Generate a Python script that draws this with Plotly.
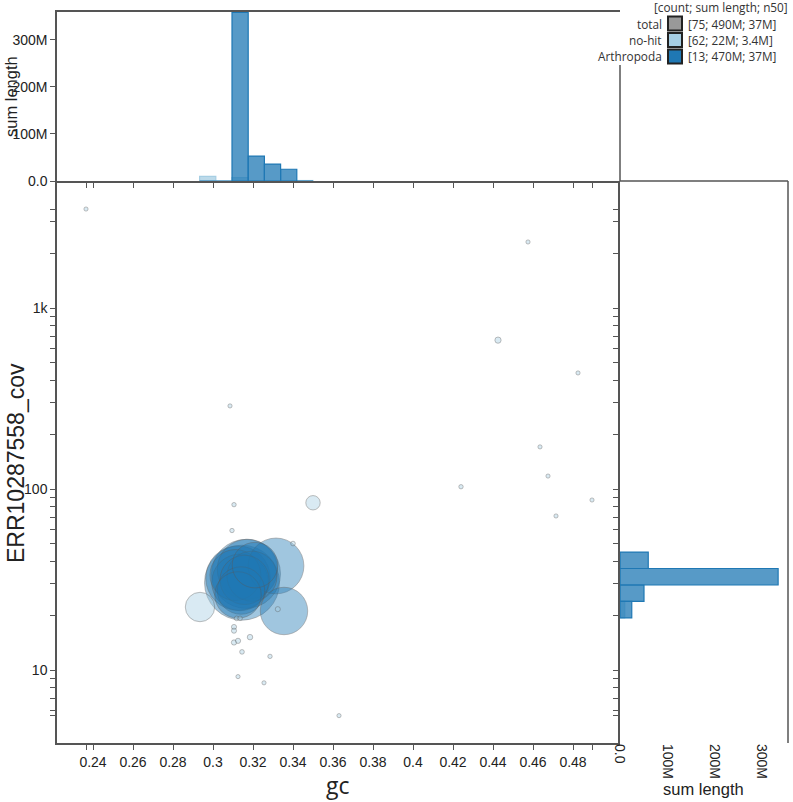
import numpy as np
import plotly.graph_objects as go

W, H = 793, 802

# ---------------- data ----------------
nohit_gc = [0.2365, 0.4575, 0.4425, 0.4825, 0.3085, 0.4635, 0.4675, 0.424, 0.4895, 0.4715,
            0.350, 0.3105, 0.3095, 0.340, 0.2935, 0.3118, 0.3135, 0.3105, 0.3105, 0.3105,
            0.3125, 0.3185, 0.3145, 0.3285, 0.3125, 0.3255, 0.3324, 0.363]
nohit_cov = [3525, 2318, 665, 438, 288, 171, 118, 103, 87, 71,
             84, 82, 59, 50, 22.3, 19.3, 19.3, 17.3, 16.5, 14.2,
             14.5, 15.2, 12.6, 11.9, 9.2, 8.5, 21.7, 5.6]
nohit_len = [0.2e6, 0.2e6, 0.45e6, 0.2e6, 0.2e6, 0.2e6, 0.2e6, 0.22e6, 0.2e6, 0.2e6,
             2.4e6, 0.22e6, 0.22e6, 0.25e6, 10e6, 0.25e6, 0.25e6, 0.3e6, 0.3e6, 0.32e6,
             0.32e6, 0.35e6, 0.25e6, 0.22e6, 0.2e6, 0.2e6, 0.3e6, 0.2e6]

arth_gc = [0.3145, 0.3165, 0.3125, 0.3172, 0.3135, 0.3112, 0.3158, 0.314, 0.3125,
           0.3195, 0.321, 0.3315, 0.3355]
arth_cov = [30.4, 34.0, 32.2, 36.0, 30.5, 33.5, 31.5, 27.5, 26.0,
            33.0, 38.0, 37.6, 21.2]
arth_len = [65e6, 55e6, 48e6, 42e6, 37e6, 30e6, 28e6, 26e6, 25e6,
            29e6, 24e6, 36e6, 26e6]

# gc histogram (sum length per bin)
gc_bin_lo = [0.2933, 0.3014, 0.3095, 0.3176, 0.3257, 0.3338, 0.3419]
gc_bin_w = 0.0081
arth_gc_sum = [0, 0, 358e6, 53e6, 36e6, 25e6, 0]
nohit_gc_sum = [10e6, 0, 7e6, 0, 0, 0, 1e6]

# coverage histogram (log10 bins)
cov_bin_lo = [1.288, 1.379, 1.470, 1.561]
cov_bin_w = 0.091
arth_cov_sum = [25e6, 51e6, 336e6, 60e6]
nohit_cov_sum = [10e6, 0, 0, 0]

x_major = [0.24, 0.26, 0.28, 0.30, 0.32, 0.34, 0.36, 0.38, 0.40, 0.42, 0.44, 0.46, 0.48]
hist_ticks = [0, 100e6, 200e6, 300e6]
hist_ticktext = ["0.0", "100M", "200M", "300M"]

legend_rows = [("total", "#999999", "[75; 490M; 37M]"),
               ("no-hit", "#a6cee3", "[62; 22M; 3.4M]"),
               ("Arthropoda", "#1f78b4", "[13; 470M; 37M]")]

# ---------------- derived ----------------
def rgba(hexc, a):
    h = hexc.lstrip('#')
    return "rgba(%d,%d,%d,%.2f)" % (int(h[0:2], 16), int(h[2:4], 16), int(h[4:6], 16), a)

NOHIT, ARTH = "#a6cee3", "#1f78b4"
gcs = np.array(nohit_gc + arth_gc)
covs = np.array(nohit_cov + arth_cov)
lens = np.array(nohit_len + arth_len)
cols = [NOHIT] * len(nohit_gc) + [ARTH] * len(arth_gc)
order = np.argsort(-lens, kind="stable")
sizes = np.maximum(4, 0.0093 * np.sqrt(lens))

# ticks
x_tv = x_major + [gcs.min(), gcs.max()]
x_tt = ["%g" % v for v in x_major] + ["", ""]
y_tv, y_tt = [], []
for dec in [1, 10, 100, 1000]:
    for m in range(1, 10):
        v = m * dec
        if covs.min() <= v <= covs.max():
            y_tv.append(v)
            y_tt.append({10: "10", 100: "100", 1000: "1k"}.get(v, ""))
y_tv += [covs.min(), covs.max()]
y_tt += ["", ""]

AX = "#555555"
TICKFONT = dict(family="Liberation Sans, Arial, sans-serif", size=14, color="#222")

x_dom = [57 / W, 620 / W]
y_dom = [1 - 743 / H, 1 - 181 / H]
top_dom = [1 - 181 / H, 1 - 12 / H]
right_dom = [620 / W, 788 / W]
x_range = [0.222, 0.5035]
y_range = [0.597, 3.702]

fig = go.Figure()

# top histogram
for vals, c in [(nohit_gc_sum, NOHIT), (arth_gc_sum, ARTH)]:
    fig.add_trace(go.Bar(x=[lo + gc_bin_w / 2 for lo in gc_bin_lo], y=vals, width=gc_bin_w,
                         marker=dict(color=rgba(c, 0.75), line=dict(color=c, width=1.2)),
                         xaxis="x2", yaxis="y2", showlegend=False, hoverinfo="skip"))

# right histogram
for vals, c in [(nohit_cov_sum, NOHIT), (arth_cov_sum, ARTH)]:
    fig.add_trace(go.Bar(y=[lo + cov_bin_w / 2 for lo in cov_bin_lo], x=vals, width=cov_bin_w,
                         orientation="h",
                         marker=dict(color=rgba(c, 0.75), line=dict(color=c, width=1.2)),
                         xaxis="x3", yaxis="y3", showlegend=False, hoverinfo="skip"))

# scatter
fig.add_trace(go.Scatter(
    x=gcs[order], y=covs[order], mode="markers",
    marker=dict(size=sizes[order], color=[rgba(cols[i], 0.6) for i in order],
                line=dict(color="rgba(90,90,90,0.55)", width=1)),
    xaxis="x", yaxis="y", showlegend=False, hoverinfo="skip"))

common = dict(showgrid=False, zeroline=False, linecolor=AX, linewidth=1.5, automargin=False,
              ticklen=5, tickcolor=AX, tickwidth=1, tickfont=TICKFONT)

fig.update_layout(
    width=W, height=H, margin=dict(l=0, r=0, t=0, b=0, autoexpand=False),
    paper_bgcolor="white", plot_bgcolor="rgba(0,0,0,0)", barmode="overlay",
    xaxis=dict(domain=x_dom, range=x_range, anchor="y", tickmode="array", ticks="outside",
               tickvals=x_tv, ticktext=x_tt, showline=True, **common),
    yaxis=dict(domain=y_dom, range=y_range, type="log", anchor="x", tickmode="array",
               ticks="outside", tickvals=y_tv, ticktext=y_tt, showline=True, **common),
    xaxis2=dict(domain=x_dom, range=x_range, anchor="y2", tickmode="array", ticks="outside",
                tickvals=x_tv, ticktext=x_tt, showticklabels=False, showline=True,
                mirror=True, **common),
    yaxis2=dict(domain=top_dom, range=[0, 359e6], anchor="x2", tickmode="array",
                ticks="outside", tickvals=hist_ticks, ticktext=hist_ticktext,
                showline=True, **common),
    xaxis3=dict(domain=right_dom, range=[0, 357e6], anchor="y3", tickmode="array",
                tickvals=hist_ticks, ticktext=hist_ticktext, tickangle=90, ticks="",
                showline=False, **common),
    yaxis3=dict(domain=y_dom, range=y_range, anchor="x3", tickmode="array", ticks="outside",
                tickvals=list(np.log10(y_tv)), ticktext=[""] * len(y_tv),
                showticklabels=False, showline=True, **common),
)

# frame lines
shapes = [
    dict(type="line", xref="paper", yref="paper", x0=620 / W, x1=620 / W,
         y0=1 - 181 / H, y1=1 - 65 / H, line=dict(color=AX, width=1.5)),
    dict(type="line", xref="paper", yref="paper", x0=620 / W, x1=788 / W,
         y0=1 - 181 / H, y1=1 - 181 / H, line=dict(color=AX, width=1.5)),
    dict(type="line", xref="paper", yref="paper", x0=788 / W, x1=788 / W,
         y0=1 - 181 / H, y1=1 - 743 / H, line=dict(color=AX, width=1.5)),
]
annotations = [
    dict(text="gc", x=338 / W, y=1 - 785 / H, xref="paper", yref="paper", showarrow=False,
         font=dict(family="Open Sans", size=23, color="#222"), xanchor="center",
         yanchor="middle", borderpad=0),
    dict(text="ERR10287558_cov", x=16 / W, y=1 - 463 / H, xref="paper", yref="paper",
         showarrow=False, textangle=-90,
         font=dict(family="Liberation Sans, Arial", size=23, color="#222"),
         xanchor="center", yanchor="middle"),
    dict(text="sum length", x=11 / W, y=1 - 97 / H, xref="paper", yref="paper",
         showarrow=False, textangle=-90,
         font=dict(family="Liberation Sans, Arial", size=16.5, color="#222"),
         xanchor="center", yanchor="middle"),
    dict(text="sum length", x=703 / W, y=1 - 789 / H, xref="paper", yref="paper",
         showarrow=False, font=dict(family="Liberation Sans, Arial", size=16.5, color="#222"),
         xanchor="center", yanchor="middle"),
    dict(text="[count; sum length; n50]", x=789 / W, y=1 - 7 / H, xref="paper", yref="paper",
         showarrow=False, font=dict(family="Open Sans", size=11.8, color="#333"),
         xanchor="right", yanchor="middle", borderpad=0),
]
LEG = dict(family="Open Sans", size=11.8, color="#333")
for i, (name, col, stats) in enumerate(legend_rows):
    cy = 23.5 + 16.5 * i
    shapes.append(dict(type="rect", xref="paper", yref="paper",
                       x0=668 / W, x1=682 / W, y0=1 - (cy + 7) / H, y1=1 - (cy - 7) / H,
                       fillcolor=col, line=dict(color="#222", width=2)))
    annotations.append(dict(text=name, x=663 / W, y=1 - cy / H, xref="paper", yref="paper",
                            showarrow=False, font=LEG, xanchor="right", yanchor="middle",
                            borderpad=0))
    annotations.append(dict(text=stats, x=687 / W, y=1 - cy / H, xref="paper", yref="paper",
                            showarrow=False, font=LEG, xanchor="left", yanchor="middle",
                            borderpad=0))

fig.update_layout(shapes=shapes, annotations=annotations)
fig.write_html("out.html")
